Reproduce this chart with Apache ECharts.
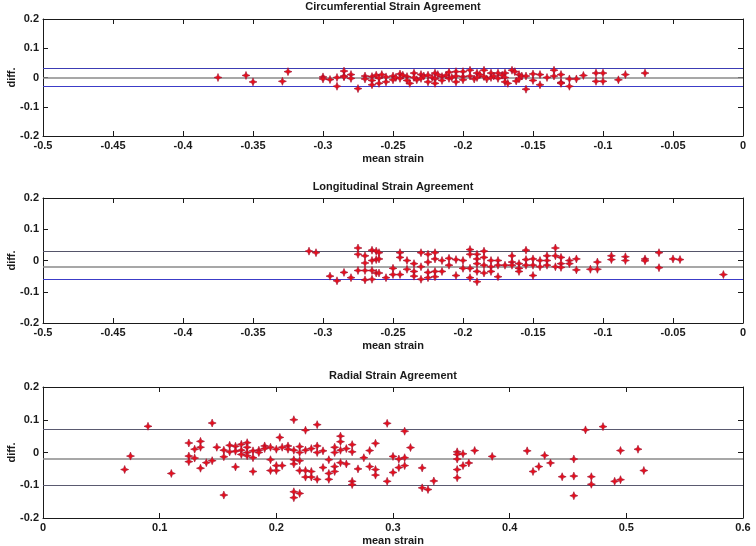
<!DOCTYPE html>
<html>
<head>
<meta charset="utf-8">
<script src="https://cdn.jsdelivr.net/npm/echarts@6/dist/echarts.min.js"></script>
<style>html,body{margin:0;padding:0;background:#fff}#c{width:756px;height:546px}</style>
</head>
<body>
<div id="c"></div>
<script>
// ---------- DATA ----------
const titles = ['Circumferential Strain Agreement', 'Longitudinal Strain Agreement', 'Radial Strain Agreement'];
const xTicksCL = [-0.5, -0.45, -0.4, -0.35, -0.3, -0.25, -0.2, -0.15, -0.1, -0.05, 0];
const xTicksR = [0, 0.1, 0.2, 0.3, 0.4, 0.5, 0.6];
const yTicks = [-0.2, -0.1, 0, 0.1, 0.2];

const circMean = [-0.375,-0.355,-0.350,-0.329,-0.325,-0.300,-0.300,-0.295,-0.290,-0.290,-0.285,-0.285,-0.285,-0.280,-0.280,-0.275,-0.270,-0.270,-0.265,-0.265,-0.265,-0.262,-0.260,-0.260,-0.258,-0.255,-0.255,-0.250,-0.250,-0.248,-0.245,-0.245,-0.243,-0.240,-0.240,-0.238,-0.235,-0.235,-0.233,-0.230,-0.230,-0.228,-0.225,-0.225,-0.222,-0.220,-0.220,-0.220,-0.218,-0.215,-0.215,-0.212,-0.210,-0.210,-0.208,-0.205,-0.205,-0.205,-0.200,-0.200,-0.200,-0.195,-0.195,-0.192,-0.190,-0.190,-0.188,-0.185,-0.185,-0.183,-0.180,-0.180,-0.178,-0.175,-0.175,-0.172,-0.170,-0.170,-0.170,-0.168,-0.165,-0.163,-0.162,-0.160,-0.160,-0.158,-0.155,-0.155,-0.150,-0.150,-0.145,-0.145,-0.140,-0.135,-0.135,-0.130,-0.130,-0.130,-0.124,-0.124,-0.119,-0.114,-0.105,-0.105,-0.100,-0.100,-0.089,-0.084,-0.070];
const circDiff = [0.000,0.007,-0.015,-0.013,0.020,0.002,-0.005,-0.007,0.000,-0.030,0.022,0.005,0.002,0.010,-0.003,-0.038,0.005,-0.005,0.003,-0.010,-0.025,0.008,-0.002,-0.020,0.010,-0.015,0.002,0.005,-0.008,0.000,0.012,-0.003,0.008,0.003,-0.010,-0.020,0.015,0.000,-0.008,0.010,-0.003,0.005,-0.015,0.008,0.000,0.015,-0.005,-0.020,0.010,0.003,-0.010,0.008,0.018,-0.003,0.000,0.020,0.005,-0.015,0.020,0.003,-0.008,0.025,0.005,-0.005,0.015,0.000,0.010,0.025,0.003,-0.005,0.015,0.000,0.005,0.015,-0.003,0.008,0.015,0.000,-0.015,-0.020,0.025,0.020,-0.012,0.010,-0.005,0.005,-0.040,0.005,0.012,-0.010,0.010,-0.025,0.000,0.025,0.005,0.010,-0.017,-0.020,-0.005,-0.030,-0.005,0.007,0.015,-0.013,0.015,-0.013,-0.008,0.010,0.015];

const longMean = [-0.310,-0.305,-0.295,-0.290,-0.285,-0.280,-0.275,-0.275,-0.275,-0.270,-0.270,-0.270,-0.270,-0.265,-0.265,-0.265,-0.265,-0.262,-0.262,-0.262,-0.260,-0.260,-0.260,-0.255,-0.250,-0.250,-0.245,-0.245,-0.245,-0.240,-0.240,-0.235,-0.235,-0.235,-0.230,-0.230,-0.230,-0.225,-0.225,-0.225,-0.225,-0.220,-0.220,-0.220,-0.220,-0.215,-0.215,-0.210,-0.210,-0.205,-0.205,-0.200,-0.200,-0.195,-0.195,-0.195,-0.195,-0.190,-0.190,-0.190,-0.190,-0.190,-0.185,-0.185,-0.185,-0.185,-0.180,-0.180,-0.180,-0.175,-0.175,-0.175,-0.170,-0.165,-0.165,-0.165,-0.160,-0.160,-0.160,-0.155,-0.155,-0.155,-0.150,-0.150,-0.150,-0.145,-0.145,-0.140,-0.140,-0.140,-0.134,-0.134,-0.134,-0.130,-0.130,-0.130,-0.124,-0.124,-0.119,-0.119,-0.109,-0.104,-0.104,-0.094,-0.094,-0.084,-0.084,-0.070,-0.070,-0.060,-0.060,-0.050,-0.045,-0.014];
const longDiff = [0.030,0.025,-0.050,-0.065,-0.038,-0.055,0.040,0.020,-0.032,0.015,-0.008,-0.032,-0.062,0.033,0.000,-0.032,-0.060,0.030,0.003,-0.040,0.025,0.005,-0.040,-0.055,-0.025,-0.045,0.025,0.010,-0.045,0.000,-0.028,-0.010,-0.035,-0.050,0.025,-0.020,-0.060,0.020,-0.005,-0.038,-0.055,0.025,0.005,-0.035,-0.052,0.000,-0.035,0.007,-0.015,0.003,-0.048,0.000,-0.025,0.035,0.020,-0.025,-0.055,0.020,0.005,-0.010,-0.035,-0.068,0.030,0.010,-0.015,-0.040,0.000,-0.020,-0.035,0.000,-0.015,-0.052,-0.015,0.015,-0.005,-0.015,-0.010,-0.025,-0.035,0.033,0.003,-0.015,0.005,-0.015,-0.048,0.000,-0.020,0.015,0.000,-0.015,0.040,0.015,-0.020,0.010,-0.010,-0.022,0.000,-0.010,0.005,-0.030,-0.028,-0.005,-0.028,0.015,0.003,0.012,0.000,0.005,-0.001,0.025,-0.023,0.005,0.003,-0.045];

const radMean = [0.070,0.075,0.090,0.110,0.125,0.125,0.125,0.130,0.130,0.135,0.135,0.135,0.140,0.145,0.145,0.149,0.155,0.155,0.155,0.160,0.160,0.165,0.165,0.165,0.170,0.170,0.170,0.175,0.175,0.175,0.175,0.180,0.180,0.180,0.185,0.185,0.190,0.190,0.195,0.195,0.195,0.200,0.200,0.200,0.203,0.205,0.205,0.210,0.210,0.215,0.215,0.215,0.215,0.215,0.215,0.220,0.220,0.220,0.220,0.220,0.225,0.225,0.225,0.225,0.230,0.230,0.230,0.235,0.235,0.235,0.235,0.240,0.240,0.245,0.245,0.245,0.250,0.250,0.250,0.250,0.255,0.255,0.255,0.255,0.260,0.260,0.265,0.265,0.265,0.265,0.270,0.275,0.280,0.280,0.285,0.285,0.285,0.295,0.295,0.300,0.300,0.305,0.305,0.310,0.310,0.310,0.315,0.325,0.325,0.330,0.335,0.355,0.355,0.355,0.355,0.355,0.360,0.360,0.365,0.370,0.385,0.415,0.420,0.425,0.430,0.435,0.445,0.455,0.455,0.455,0.465,0.470,0.470,0.480,0.490,0.495,0.495,0.510,0.515];
const radDiff = [-0.052,-0.011,0.080,-0.064,0.029,-0.011,-0.028,0.010,-0.017,0.034,0.016,-0.048,-0.031,0.090,-0.025,0.016,-0.130,0.007,-0.013,0.022,0.002,-0.044,0.019,0.004,0.025,0.007,-0.006,0.030,0.016,0.000,-0.010,0.005,-0.016,-0.058,0.007,0.000,0.020,0.012,0.016,-0.022,-0.055,0.010,-0.040,-0.055,0.046,-0.040,0.016,0.020,0.010,0.100,-0.022,-0.035,-0.120,-0.138,0.007,0.018,0.000,-0.055,-0.125,-0.025,0.068,0.007,-0.075,-0.055,0.012,-0.075,-0.058,0.085,0.020,0.000,-0.082,0.005,-0.046,-0.022,-0.082,-0.064,0.016,0.000,-0.043,-0.058,0.050,0.033,0.007,-0.031,0.012,-0.035,0.024,0.002,-0.088,-0.098,-0.050,-0.016,0.006,-0.043,0.028,-0.052,-0.069,0.089,-0.088,-0.012,-0.061,-0.020,-0.046,0.065,-0.016,-0.040,0.015,-0.047,-0.108,-0.113,-0.087,0.002,-0.006,-0.020,-0.052,-0.077,-0.004,-0.040,-0.032,0.006,-0.012,0.005,-0.058,-0.043,-0.009,-0.032,-0.074,-0.020,-0.072,-0.132,0.069,-0.074,-0.097,0.079,-0.088,0.006,-0.083,0.010,-0.055];

const circLimits = [0.025, 0, -0.025];
const longLimits = [0.029, -0.016, -0.061];
const radLimits = [0.068, -0.016, -0.101];

// ---------- STYLE ----------
const limitColors = [
  ['#3c3cb4', '#8a8a8a', '#3c3cc8'],
  ['#55556a', '#8a8a8a', '#3c3cc8'],
  ['#5a5a70', '#8a8a8a', '#5a5a70']
];
const grids = [
  {left: 43, right: 13, top: 19, height: 117, outerBoundsMode: 'none', containLabel: false},
  {left: 43, right: 13, top: 198, height: 125, outerBoundsMode: 'none', containLabel: false},
  {left: 43, right: 13, top: 387, height: 131, outerBoundsMode: 'none', containLabel: false}
];
const FONT = 'Liberation Sans, Arial, sans-serif';
const INK = '#1a1a1a';
const star = 'path://M5 0 L6.4 3.6 L10 5 L6.4 6.4 L5 10 L3.6 6.4 L0 5 L3.6 3.6 Z';
const fmt = v => String(Math.round(v * 100) / 100);

function xAxes(gi, ticks) {
  const base = {
    type: 'value', gridIndex: gi, min: ticks[0], max: ticks[ticks.length - 1],
    interval: Math.round((ticks[1] - ticks[0]) * 100) / 100,
    splitLine: {show: false},
    axisLine: {show: true, onZero: false, lineStyle: {color: INK, width: 1}},
    axisTick: {show: true, inside: true, length: 5, lineStyle: {color: INK}}
  };
  return [
    Object.assign({}, base, {
      position: 'bottom',
      axisLabel: {margin: 4, formatter: fmt, color: INK, fontFamily: FONT, fontWeight: 'bold', fontSize: 11},
      name: 'mean strain', nameLocation: 'middle', nameGap: 17,
      nameTextStyle: {color: INK, fontFamily: FONT, fontWeight: 'bold', fontSize: 11}
    }),
    Object.assign({}, base, {position: 'top', axisLabel: {show: false}})
  ];
}
function yAxes(gi) {
  const base = {
    type: 'value', gridIndex: gi, min: yTicks[0], max: yTicks[yTicks.length - 1], interval: 0.1,
    splitLine: {show: false},
    axisLine: {show: true, onZero: false, lineStyle: {color: INK, width: 1}},
    axisTick: {show: true, inside: true, length: 5, lineStyle: {color: INK}}
  };
  return [
    Object.assign({}, base, {
      position: 'left',
      axisLabel: {margin: 4, formatter: fmt, color: INK, fontFamily: FONT, fontWeight: 'bold', fontSize: 11},
      name: 'diff.', nameLocation: 'middle', nameGap: 26, nameRotate: 90, nameMoveOverlap: false,
      nameTextStyle: {color: INK, fontFamily: FONT, fontWeight: 'bold', fontSize: 11}
    }),
    Object.assign({}, base, {position: 'right', axisLabel: {show: false}})
  ];
}
function zip(a, b) { return a.map((v, i) => [v, b[i]]); }
function scatter(i, xs, ys, limits) {
  return {
    type: 'scatter', xAxisIndex: 2 * i, yAxisIndex: 2 * i,
    data: zip(xs, ys), symbol: star, symbolSize: 8,
    itemStyle: {color: '#e8101c', borderColor: '#a01030', borderWidth: 0.6, opacity: 1},
    silent: true, z: 3,
    markLine: {
      silent: true, symbol: 'none', label: {show: false}, z: 2,
      data: limits.map((v, k) => ({yAxis: v, lineStyle: {color: limitColors[i][k], width: k === 1 ? 1.6 : 1.2, type: 'solid'}}))
    }
  };
}

const chart = echarts.init(document.getElementById('c'), null, {renderer: 'canvas'});
chart.setOption({
  animation: false,
  backgroundColor: '#fff',
  title: titles.map((t, i) => ({
    text: t, left: 393, top: [1, 181, 370][i], textAlign: 'center', padding: 0,
    textStyle: {fontFamily: FONT, fontWeight: 'bold', fontSize: 11, color: INK}
  })),
  grid: grids,
  xAxis: [].concat(xAxes(0, xTicksCL), xAxes(1, xTicksCL), xAxes(2, xTicksR)),
  yAxis: [].concat(yAxes(0), yAxes(1), yAxes(2)),
  series: [
    scatter(0, circMean, circDiff, circLimits),
    scatter(1, longMean, longDiff, longLimits),
    scatter(2, radMean, radDiff, radLimits)
  ]
});
</script>
</body>
</html>
